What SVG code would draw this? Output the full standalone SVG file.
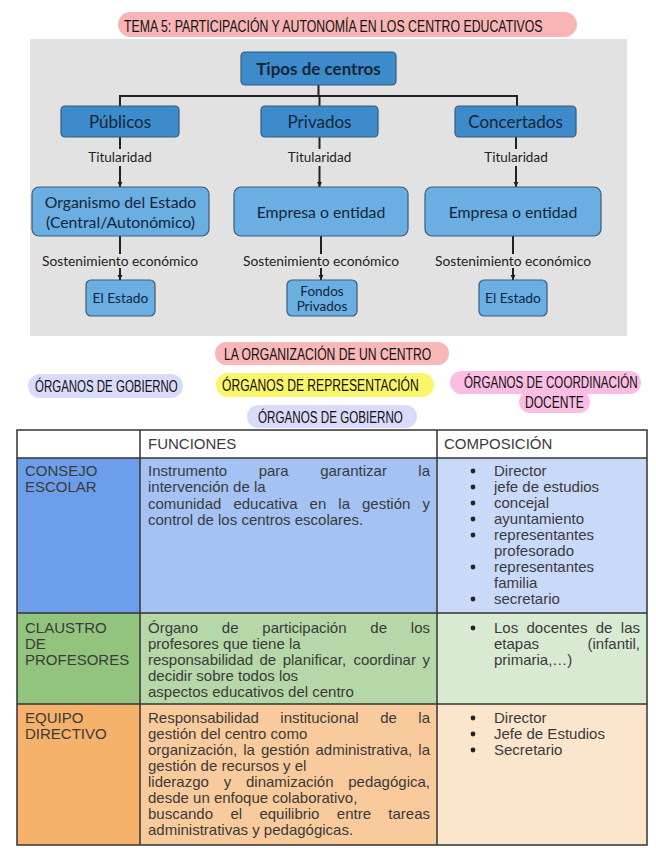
<svg xmlns="http://www.w3.org/2000/svg" width="656" height="848" viewBox="0 0 656 848">
<defs>
<style>
.hw{font-family:"Liberation Sans",Arial,sans-serif;font-size:17px;fill:#111;}
.b1{fill:#3d8bcb;stroke:#3b5b7a;stroke-width:1.2;}
.b2{fill:#6aaee2;stroke:#3b5b7a;stroke-width:1.2;}
.bt{font-family:Lato,"Open Sans",sans-serif;fill:#14263a;text-anchor:middle;}
.lbl{font-family:Lato,"Open Sans",sans-serif;font-size:13.5px;fill:#222;text-anchor:middle;}
.ln{stroke:#222;stroke-width:2;fill:none;}
.tt{font-family:"Liberation Sans",Arial,sans-serif;font-size:15px;fill:#3a3a3a;}
.e{text-anchor:end;}
.grid{stroke:#333;stroke-width:1.5;fill:none;}
.dot{fill:#222;}
</style>
<marker id="ah" markerWidth="6" markerHeight="6" refX="5" refY="3" orient="auto" markerUnits="userSpaceOnUse">
<path d="M0,0.5 L5,3 L0,5.5 Z" fill="#222"/>
</marker>
</defs>
<rect width="656" height="848" fill="#ffffff"/>

<g id="title">
<rect x="118" y="12" width="459" height="25" rx="12.5" fill="#f8b5b5"/>
<text class="hw" transform="translate(124,32) scale(0.7,1)" textLength="598" lengthAdjust="spacingAndGlyphs">TEMA 5: PARTICIPACIÓN Y AUTONOMÍA EN LOS CENTRO EDUCATIVOS</text>
</g>

<rect x="30" y="39" width="597" height="297" fill="#e2e2e2"/>

<g id="connectors">
<line class="ln" x1="318.5" y1="85" x2="318.5" y2="96"/>
<polyline class="ln" points="120,106 120,96 517,96 517,106"/>
<line class="ln" x1="319.5" y1="96" x2="319.5" y2="106"/>
<line class="ln" x1="120" y1="137" x2="120" y2="149"/>
<line class="ln" x1="120" y1="166" x2="120" y2="187" marker-end="url(#ah)"/>
<line class="ln" x1="319.5" y1="137" x2="319.5" y2="149"/>
<line class="ln" x1="319.5" y1="166" x2="319.5" y2="187" marker-end="url(#ah)"/>
<line class="ln" x1="516" y1="137" x2="516" y2="149"/>
<line class="ln" x1="516" y1="166" x2="516" y2="187" marker-end="url(#ah)"/>
<line class="ln" x1="120" y1="236" x2="120" y2="254"/>
<line class="ln" x1="120" y1="268" x2="120" y2="280" marker-end="url(#ah)"/>
<line class="ln" x1="321" y1="236" x2="321" y2="254"/>
<line class="ln" x1="321" y1="268" x2="321" y2="280" marker-end="url(#ah)"/>
<line class="ln" x1="513" y1="236" x2="513" y2="254"/>
<line class="ln" x1="513" y1="268" x2="513" y2="280" marker-end="url(#ah)"/>
</g>

<g id="tipos">
<rect class="b1" x="241" y="52" width="155" height="33" rx="4"/>
<text class="bt" x="318.5" y="74.5" font-size="17" font-weight="bold">Tipos de centros</text>
</g>
<g id="publicos">
<rect class="b1" x="61" y="106" width="118" height="31" rx="4"/>
<text class="bt" x="120" y="127.5" font-size="17">Públicos</text>
</g>
<g id="privados">
<rect class="b1" x="261" y="106" width="117" height="31" rx="4"/>
<text class="bt" x="319.5" y="127.5" font-size="17">Privados</text>
</g>
<g id="concertados">
<rect class="b1" x="455" y="106" width="121" height="31" rx="4"/>
<text class="bt" x="515.5" y="127.5" font-size="17">Concertados</text>
</g>

<g id="tit1"><text class="lbl" x="120" y="162">Titularidad</text></g>
<g id="tit2"><text class="lbl" x="319.5" y="162">Titularidad</text></g>
<g id="tit3"><text class="lbl" x="516" y="162">Titularidad</text></g>

<g id="organismo">
<rect class="b2" x="32" y="187" width="177" height="49" rx="7"/>
<text class="bt" x="120.5" y="208" font-size="15.8">Organismo del Estado</text>
<text class="bt" x="120.5" y="228" font-size="15.8">(Central/Autonómico)</text>
</g>
<g id="empresa1">
<rect class="b2" x="234" y="187" width="174" height="49" rx="7"/>
<text class="bt" x="321" y="218" font-size="15.8">Empresa o entidad</text>
</g>
<g id="empresa2">
<rect class="b2" x="425" y="187" width="176" height="49" rx="7"/>
<text class="bt" x="513" y="218" font-size="15.8">Empresa o entidad</text>
</g>

<g id="sost1"><text class="lbl" x="120" y="266" textLength="156" lengthAdjust="spacingAndGlyphs">Sostenimiento económico</text></g>
<g id="sost2"><text class="lbl" x="321" y="266" textLength="156" lengthAdjust="spacingAndGlyphs">Sostenimiento económico</text></g>
<g id="sost3"><text class="lbl" x="513" y="266" textLength="156" lengthAdjust="spacingAndGlyphs">Sostenimiento económico</text></g>

<g id="estado1">
<rect class="b2" x="86" y="280" width="69" height="36" rx="5"/>
<text class="bt" x="120.5" y="303" font-size="13.8">El Estado</text>
</g>
<g id="fondos">
<rect class="b2" x="287" y="280" width="70" height="36" rx="5"/>
<text class="bt" x="322" y="296" font-size="13.5">Fondos</text>
<text class="bt" x="322" y="311" font-size="13.5">Privados</text>
</g>
<g id="estado2">
<rect class="b2" x="479" y="280" width="68" height="36" rx="5"/>
<text class="bt" x="513" y="303" font-size="13.8">El Estado</text>
</g>

<g id="org-centro">
<rect x="215" y="342" width="234" height="23" rx="11.5" fill="#f8b8b8"/>
<text class="hw" transform="translate(224,360) scale(0.7,1)" textLength="296" lengthAdjust="spacingAndGlyphs">LA ORGANIZACIÓN DE UN CENTRO</text>
</g>
<g id="gobierno-left">
<rect x="28" y="374" width="155" height="24" rx="12" fill="#d8dbf9"/>
<text class="hw" transform="translate(35,392) scale(0.7,1)" textLength="204" lengthAdjust="spacingAndGlyphs">ÓRGANOS DE GOBIERNO</text>
</g>
<g id="representacion">
<rect x="216" y="373" width="218" height="24" rx="12" fill="#fbf56a"/>
<text class="hw" transform="translate(222,391) scale(0.7,1)" textLength="281" lengthAdjust="spacingAndGlyphs">ÓRGANOS DE REPRESENTACIÓN</text>
</g>
<g id="coordinacion">
<rect x="450" y="371" width="191" height="23" rx="11.5" fill="#fbbde3"/>
<rect x="519" y="391" width="71" height="22" rx="11" fill="#fbbde3"/>
<text class="hw" transform="translate(464,388) scale(0.7,1)" textLength="248" lengthAdjust="spacingAndGlyphs">ÓRGANOS DE COORDINACIÓN</text>
<text class="hw" transform="translate(525,408) scale(0.7,1)" textLength="84" lengthAdjust="spacingAndGlyphs">DOCENTE</text>
</g>
<g id="gobierno-center">
<rect x="247" y="405" width="170" height="23" rx="11.5" fill="#d8dbf9"/>
<text class="hw" transform="translate(258,423) scale(0.7,1)" textLength="207" lengthAdjust="spacingAndGlyphs">ÓRGANOS DE GOBIERNO</text>
</g>

<g id="table">
<rect x="17" y="430" width="630" height="28" fill="#ffffff"/>
<rect x="17" y="458" width="123" height="155" fill="#6d9eeb"/>
<rect x="140" y="458" width="297" height="155" fill="#a4c2f4"/>
<rect x="437" y="458" width="210" height="155" fill="#c9daf8"/>
<rect x="17" y="613" width="123" height="91" fill="#93c47d"/>
<rect x="140" y="613" width="297" height="91" fill="#b6d7a8"/>
<rect x="437" y="613" width="210" height="91" fill="#d9ead3"/>
<rect x="17" y="704" width="123" height="141" fill="#f6b26b"/>
<rect x="140" y="704" width="297" height="141" fill="#f9cb9c"/>
<rect x="437" y="704" width="210" height="141" fill="#fce5cd"/>
<rect class="grid" x="17" y="430" width="630" height="415"/>
<line class="grid" x1="140" y1="430" x2="140" y2="845"/>
<line class="grid" x1="437" y1="430" x2="437" y2="845"/>
<line class="grid" x1="17" y1="458" x2="647" y2="458"/>
<line class="grid" x1="17" y1="613" x2="647" y2="613"/>
<line class="grid" x1="17" y1="704" x2="647" y2="704"/>

<text class="tt" x="148" y="449">FUNCIONES</text>
<text class="tt" x="444" y="449">COMPOSICIÓN</text>

<text class="tt" x="25" y="476">CONSEJO</text>
<text class="tt" x="25" y="492">ESCOLAR</text>
<text class="tt" y="476"><tspan x="148">Instrumento</tspan><tspan x="258.7">para</tspan><tspan x="320.2">garantizar</tspan></text>
<text class="tt e" x="430" y="476">la</text>
<text class="tt" x="148" y="492">intervención de la</text>
<text class="tt" y="508.5"><tspan x="148">comunidad</tspan><tspan x="233.4">educativa</tspan><tspan x="309.6">en</tspan><tspan x="338.3">la</tspan><tspan x="362">gestión</tspan></text>
<text class="tt e" x="430" y="508.5">y</text>
<text class="tt" x="148" y="525">control de los centros escolares.</text>

<circle class="dot" cx="473" cy="471" r="2.4"/><text class="tt" x="494" y="476">Director</text>
<circle class="dot" cx="473" cy="487" r="2.4"/><text class="tt" x="494" y="492">jefe de estudios</text>
<circle class="dot" cx="473" cy="503" r="2.4"/><text class="tt" x="494" y="508">concejal</text>
<circle class="dot" cx="473" cy="519" r="2.4"/><text class="tt" x="494" y="524">ayuntamiento</text>
<circle class="dot" cx="473" cy="535" r="2.4"/><text class="tt" x="494" y="540">representantes</text>
<text class="tt" x="494" y="556">profesorado</text>
<circle class="dot" cx="473" cy="567" r="2.4"/><text class="tt" x="494" y="572">representantes</text>
<text class="tt" x="494" y="588">familia</text>
<circle class="dot" cx="473" cy="599" r="2.4"/><text class="tt" x="494" y="604">secretario</text>

<text class="tt" x="25" y="633">CLAUSTRO</text>
<text class="tt" x="25" y="649">DE</text>
<text class="tt" x="25" y="665">PROFESORES</text>
<text class="tt" y="633"><tspan x="148">Órgano</tspan><tspan x="221.8">de</tspan><tspan x="262.3">participación</tspan><tspan x="370.3">de</tspan></text>
<text class="tt e" x="430" y="633">los</text>
<text class="tt" x="148" y="649">profesores que tiene la</text>
<text class="tt" y="665"><tspan x="148">responsabilidad</tspan><tspan x="259.5">de</tspan><tspan x="282.7">planificar,</tspan><tspan x="353.4">coordinar</tspan></text>
<text class="tt e" x="430" y="665">y</text>
<text class="tt" x="148" y="681">decidir sobre todos los</text>
<text class="tt" x="148" y="697">aspectos educativos del centro</text>
<circle class="dot" cx="473" cy="628" r="2.4"/>
<text class="tt" y="633"><tspan x="494">Los</tspan><tspan x="526.5">docentes</tspan><tspan x="595.7">de</tspan></text>
<text class="tt e" x="640" y="633">las</text>
<text class="tt" x="494" y="649">etapas</text>
<text class="tt e" x="640" y="649">(infantil,</text>
<text class="tt" x="494" y="665">primaria,…)</text>

<text class="tt" x="25" y="723">EQUIPO</text>
<text class="tt" x="25" y="739">DIRECTIVO</text>
<text class="tt" y="723"><tspan x="148">Responsabilidad</tspan><tspan x="280.3">institucional</tspan><tspan x="380.2">de</tspan></text>
<text class="tt e" x="430" y="723">la</text>
<text class="tt" x="148" y="739">gestión del centro como</text>
<text class="tt" y="755"><tspan x="148">organización,</tspan><tspan x="243.2">la</tspan><tspan x="261">gestión</tspan><tspan x="315.5">administrativa,</tspan></text>
<text class="tt e" x="430" y="755">la</text>
<text class="tt" x="148" y="771">gestión de recursos y el</text>
<text class="tt" y="787"><tspan x="148">liderazgo</tspan><tspan x="223.7">y</tspan><tspan x="246">dinamización</tspan></text>
<text class="tt e" x="430" y="787">pedagógica,</text>
<text class="tt" x="148" y="803">desde un enfoque colaborativo,</text>
<text class="tt" y="819"><tspan x="148">buscando</tspan><tspan x="230.4">el</tspan><tspan x="259.4">equilibrio</tspan><tspan x="336.8">entre</tspan></text>
<text class="tt e" x="430" y="819">tareas</text>
<text class="tt" x="148" y="835">administrativas y pedagógicas.</text>
<circle class="dot" cx="473" cy="718" r="2.4"/><text class="tt" x="494" y="723">Director</text>
<circle class="dot" cx="473" cy="734" r="2.4"/><text class="tt" x="494" y="739">Jefe de Estudios</text>
<circle class="dot" cx="473" cy="750" r="2.4"/><text class="tt" x="494" y="755">Secretario</text>
</g>
</svg>
